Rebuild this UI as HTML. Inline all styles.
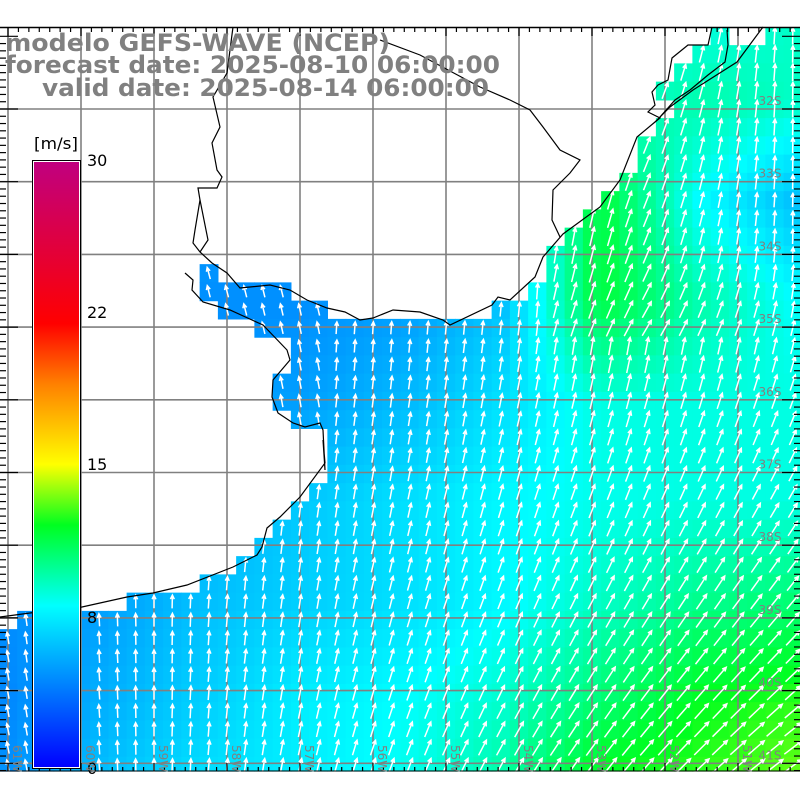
<!DOCTYPE html>
<html><head><meta charset="utf-8"><style>
html,body{margin:0;padding:0;background:#fff;width:800px;height:800px;overflow:hidden}
svg{display:block}
</style></head><body>
<svg id="s" width="800" height="800" xmlns="http://www.w3.org/2000/svg">
<defs>
<linearGradient id="cb" x1="0" y1="1" x2="0" y2="0">
<stop offset="0" stop-color="#0000ff"/>
<stop offset="0.2667" stop-color="#00ffff"/>
<stop offset="0.40" stop-color="#00ff20"/>
<stop offset="0.5" stop-color="#ffff00"/>
<stop offset="0.6333" stop-color="#ff8000"/>
<stop offset="0.7333" stop-color="#ff0000"/>
<stop offset="1" stop-color="#c0007f"/>
</linearGradient>
</defs>
<g id="cells"></g>
<g id="grid" stroke="#808080" stroke-width="1.6"></g>
<g id="arrows" stroke="#fff" stroke-width="1.5" fill="none"></g>
<g id="coast" stroke="#000" stroke-width="1.2" fill="none">
<polyline points="763,27 737,62 693,90 670,107 655,122 637,137 620,180 600,207 563,234 543,257 535,277 510,300 498,297 492,305 450,325 443,320 420,312 393,310 373,318 360,320 345,312 327,308 307,300 290,290 270,285 240,288 227,273 212,263 200,252 193,243 195,230 200,200 198,188 217,188 222,177 217,170 212,143 220,127 213,97 227,73 230,50 233,27"/>
<polyline points="185,273 193,280 192,290 203,302 230,310 263,325 287,350 290,360 273,380 272,397 278,413 293,423 305,427 320,423 323,430 325,470 323,440 325,463 300,497 280,517 267,528 262,547 257,555 233,567 187,585 153,593 127,597 100,603 82,607 30,613 0,617"/>
<polyline points="200,200 204,220 208,240 200,252"/>
<polyline points="380,40 420,55 480,87 510,100 530,110 543,127 560,150 580,160 570,173 553,190 552,220 560,237"/>
<polyline points="712,27 708,45 688,45 672,58 668,80 658,85 652,92 655,105 648,112 660,118 655,122"/>
<polyline points="727,30 728,45 725,62 708,75 690,90 675,100 660,117"/>
</g>
<g id="frame"></g>
<g font-family="DejaVu Sans, Liberation Sans, sans-serif" font-weight="bold" font-size="24" fill="#808080">
<text x="5" y="51" textLength="385" lengthAdjust="spacingAndGlyphs">modelo GEFS-WAVE (NCEP)</text>
<text x="5" y="73" textLength="495" lengthAdjust="spacingAndGlyphs">forecast date: 2025-08-10 06:00:00</text>
<text x="42" y="96" textLength="447" lengthAdjust="spacingAndGlyphs">valid date: 2025-08-14 06:00:00</text>
</g>
<rect x="32.5" y="160.5" width="48" height="608" fill="#fff" stroke="#000" stroke-width="1"/>
<rect x="34" y="162" width="45" height="605" fill="url(#cb)"/>
<g font-family="DejaVu Sans, Liberation Sans, sans-serif" font-size="16" fill="#000">
<text x="34" y="149" textLength="44" lengthAdjust="spacingAndGlyphs">[m/s]</text>
<text x="87" y="166">30</text>
<text x="87" y="318">22</text>
<text x="87" y="470">15</text>
<text x="87" y="623">8</text>
<text x="87" y="774">0</text>
</g>
<g id="labels" font-family="DejaVu Sans, Liberation Sans, sans-serif" font-size="12" fill="#808080"></g>
</svg>
<script>
const NS="http://www.w3.org/2000/svg";
function el(p,t,a){const e=document.createElementNS(NS,t);for(const k in a)e.setAttribute(k,a[k]);p.appendChild(e);return e;}
const xs=[0,100,200,300,400,500,600,700,800];
const ys=[27,100,200,300,400,500,600,700,772];
const V=[
[5,5,5,5,6,7,8,8.5,9],
[5,5,5,5,6,7,9,9.5,9],
[5,5,5,5,5,6,11.5,8,6],
[5,5,4.5,4.5,4.8,6,11.5,9.5,8],
[5,5,5,5,5.8,7,8.5,8.5,8.5],
[5,5,5.5,6.3,7,7.8,8.3,8.5,8.5],
[4.5,5,6,6.5,7,7.8,9,10,10.5],
[4.2,5.5,6.5,7.5,8,8.8,10.5,12,12.5],
[4.5,6,7,7.5,8.2,9.5,12,12.5,13.2]];
function idx(a,v){for(let i=0;i<a.length-1;i++)if(v<=a[i+1])return i;return a.length-2;}
function speed(x,y){x=Math.max(0,Math.min(800,x));y=Math.max(27,Math.min(772,y));
const i=idx(xs,x),j=idx(ys,y);const tx=(x-xs[i])/(xs[i+1]-xs[i]),ty=(y-ys[j])/(ys[j+1]-ys[j]);
return V[j][i]*(1-tx)*(1-ty)+V[j][i+1]*tx*(1-ty)+V[j+1][i]*(1-tx)*ty+V[j+1][i+1]*tx*ty;}
function col(s){let r,g,b;
if(s<=8){r=0;g=255*s/8;b=255;}
else if(s<=12){const t=(s-8)/4;r=0;g=255;b=255*(1-t)+32*t;}
else if(s<=15){const t=(s-12)/3;r=255*t;g=255;b=32*(1-t);}
else{r=255;g=255;b=0;}
return `rgb(${r|0},${g|0},${b|0})`;}
const L=[[27,45,708],[45,63,690],[63,80,673],[80,100,655],[100,117,673],[117,135,655],[135,172,636],[172,190,618],[190,209,600],[209,227,582],[227,245,563],[245,263,545],[263,282,545],[282,300,527],[300,318,492],[318,336,255],[336,373,292],[373,409,273],[409,427,292],[427,482,327],[482,500,308],[500,518,291],[518,537,273],[537,555,255],[555,573,236],[573,591,200],[591,609,127],[609,627,18],[627,800,0]];
function water(x0,cy){
 if(cy<27)return false;
 if(cy>=263&&cy<282&&x0>195&&x0<205)return true;
 if(cy>=282&&cy<300&&x0>195&&x0<280)return true;
 if(cy>=300&&cy<318&&x0>212&&x0<315)return true;
 for(const r of L){if(cy>=r[0]&&cy<r[1]){
   if(cy<45&&x0>722&&x0<760)return false;
   return x0>=r[2]-4;}}
 return false;}
const cells=document.getElementById('cells'),arr=document.getElementById('arrows');
const D=18.25;
for(let j=-2;j<=41;j++){
 const cy=36+D*j;
 for(let i=-5;i<=40;i++){
  const cx=81+D*i;
  const x0=cx-D/2,y0=cy-D/2;
  if(!water(Math.max(x0,0),cy))continue;
  const s=speed(cx,cy);
  let yt=Math.max(y0,27),yb=Math.min(y0+D,771),xl=Math.max(x0,0),xr=Math.min(x0+D,800);
  if(yb<=yt)continue;
  el(cells,'rect',{x:xl.toFixed(2),y:yt.toFixed(2),width:(xr-xl+0.6).toFixed(2),height:(yb-yt+0.6).toFixed(2),fill:col(s)});
  if(cx<0||cx>800||cy<30||cy>770)continue;
  if(cx>30&&cx<84&&cy>150)continue;
  let a=55*((cx-150)/650)*Math.pow(Math.max(0,Math.min(1,(cy-250)/520)),0.8);
  if(cy<330&&cx>550) a+=22*Math.max(0,1-Math.abs(cx-650)/150);
  if(cx<330&&cy<420) a-=15;
  a=Math.max(-20,a)*Math.PI/180;
  const len=7+s*1.1;
  const dx=Math.sin(a)*len/2,dy=-Math.cos(a)*len/2;
  const x1=cx-dx,y1=cy-dy,x2=cx+dx,y2=cy+dy;
  const h=4.5,ha=0.45;
  const ba=Math.atan2(y1-y2,x1-x2);
  const hx1=x2+h*Math.cos(ba+ha),hy1=y2+h*Math.sin(ba+ha),hx2=x2+h*Math.cos(ba-ha),hy2=y2+h*Math.sin(ba-ha);
  el(arr,'path',{d:`M${x1.toFixed(1)},${y1.toFixed(1)}L${x2.toFixed(1)},${y2.toFixed(1)}M${hx1.toFixed(1)},${hy1.toFixed(1)}L${x2.toFixed(1)},${y2.toFixed(1)}L${hx2.toFixed(1)},${hy2.toFixed(1)}`});
 }}
const grid=document.getElementById('grid');
for(let k=0;k<11;k++){const x=8+73*k;el(grid,'line',{x1:x,y1:27,x2:x,y2:771});}
for(let k=0;k<10;k++){const y=109+72.7*k;el(grid,'line',{x1:0,y1:y,x2:800,y2:y});}
const fr=document.getElementById('frame');
el(fr,'line',{x1:0,y1:27.5,x2:800,y2:27.5,stroke:'#000','stroke-width':1.5});
el(fr,'line',{x1:0,y1:771,x2:800,y2:771,stroke:'#000','stroke-width':1});
for(let x=8-73;x<=800;x+=73/7){const m=Math.abs(((x-8)/73)-Math.round((x-8)/73))<0.01;
 el(fr,'line',{x1:x,y1:27,x2:x,y2:m?36:32,stroke:'#000','stroke-width':1.2});
 el(fr,'line',{x1:x,y1:771,x2:x,y2:m?763:767,stroke:'#000','stroke-width':1.2});}
for(let y=109-72.7;y<=771;y+=7.27){const m=Math.abs(((y-109)/72.7)-Math.round((y-109)/72.7))<0.01;
 if(y<27)continue;
 el(fr,'line',{x1:0,y1:y,x2:m?18:6,y2:y,stroke:'#000','stroke-width':1.2});
 el(fr,'line',{x1:800,y1:y,x2:m?782:794,y2:y,stroke:'#000','stroke-width':1.2});}
const lab=document.getElementById('labels');
for(let k=0;k<10;k++){const t=el(lab,'text',{x:770,y:(109+72.7*k-4).toFixed(1),'text-anchor':'middle'});t.textContent=(32+k)+'S';}
for(let k=0;k<11;k++){const x=8+73*k+5;const t=el(lab,'text',{x:0,y:0,transform:`translate(${x},745) rotate(90)`});t.textContent=(61-k)+'W';}
</script>
</body></html>
